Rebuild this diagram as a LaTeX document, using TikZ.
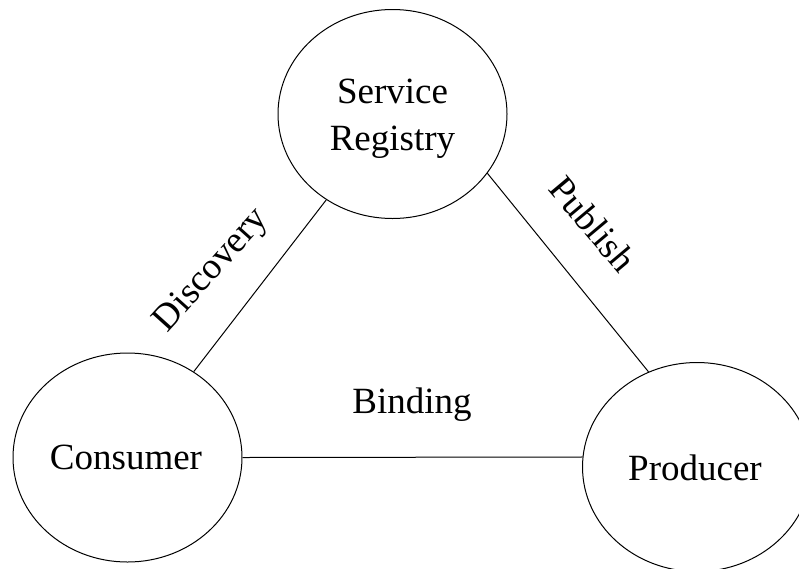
\documentclass[tikz,border=0pt]{standalone}
\usepackage{fontspec}
\setmainfont{Liberation Serif}
\usetikzlibrary{shapes.geometric}
\begin{document}
\begin{tikzpicture}[x=1pt,y=-1pt,
  party/.style={draw, ellipse, line width=1pt, minimum width=229pt,
    minimum height=209pt, inner sep=0pt},
  nametext/.style={font=\fontsize{37}{47}\selectfont, align=center, inner sep=0pt},
  link/.style={line width=1pt},
  role/.style={font=\fontsize{37}{47}\selectfont, inner sep=0pt}]
\useasboundingbox (0,0) rectangle (799,568);

% the three parties
\node[party] (sr) at (392.5,114) {};
\node[party] (c)  at (127.5,457.5) {};
\node[party] (p)  at (697,467) {};

\node[nametext] (srt) at (392.5,119) {Service\\Registry};
\node[nametext] (ct)  at (126,457.5) {Consumer};
\node[nametext] (pt)  at (695,467.5) {Producer};

% relations between them
\draw[link] (c) -- (sr);
\draw[link] (sr.-32) -- (p.117);
\draw[link] (c.east) -- (p.175);

% relation names
\node[role, rotate=48]  (disc) at (212,271) {Discovery};
\node[role, rotate=-50] (pub)  at (593,224) {Publish};
\node[role, anchor=base] (bind) at (412,413) {Binding};
\end{tikzpicture}
\end{document}
